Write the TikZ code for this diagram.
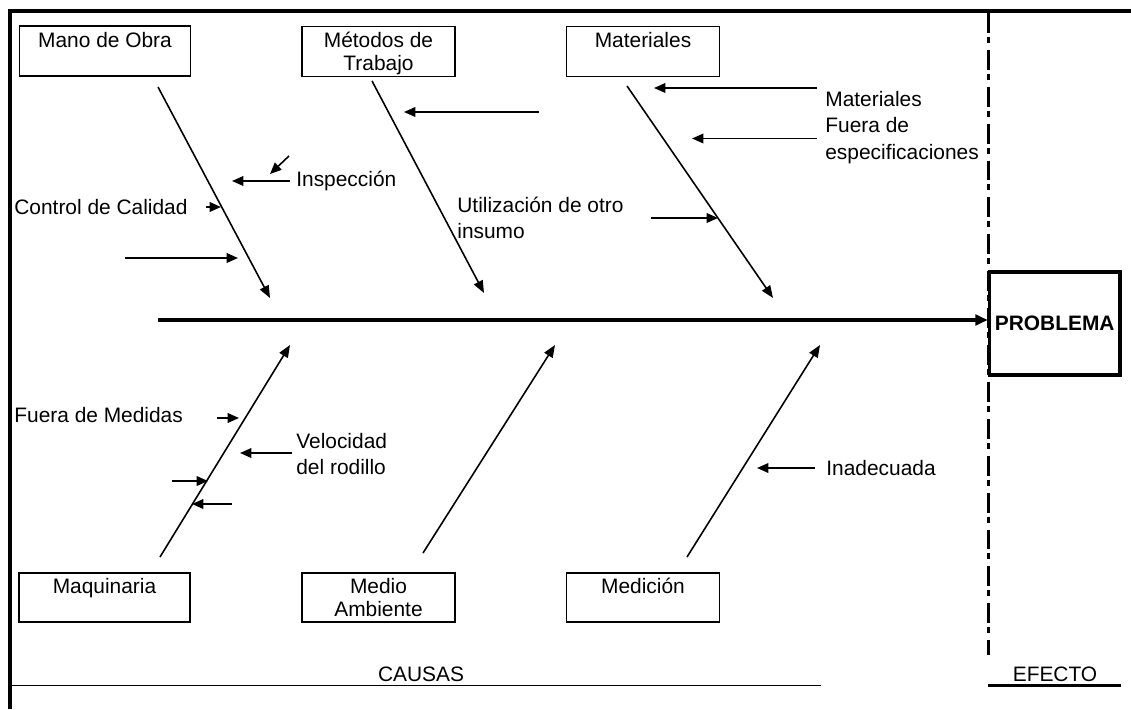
\documentclass[tikz,border=0pt]{standalone}
\usepackage{fontspec}
\setmainfont{Liberation Sans}
\usetikzlibrary{arrows.meta}
% two-line content of a category box, with fixed first-line height and last-line depth
\newcommand{\cattext}[2]{\rule{0pt}{11.5pt}#1\\#2\rule[-3pt]{0pt}{3pt}}
\begin{document}
\begin{tikzpicture}[x=0.02cm,y=-0.02cm,
  font=\fontsize{11.9}{14.7}\selectfont,
  catbox/.style={draw,line width=0.7pt,minimum height=1.0cm,align=center,inner sep=0pt,
    font=\fontsize{11.9}{13}\selectfont},
  bone/.style={line width=0.9pt,-{Triangle[length=7pt,width=5.5pt]}},
  twig/.style={line width=0.9pt,-{Triangle[length=6.5pt,width=5.5pt]}},
  lbl/.style={anchor=west,align=left,inner sep=0pt},
  spine/.style={line width=2pt,-{Triangle[length=7pt,width=6pt]}},
]
\useasboundingbox (0,0) rectangle (1131,709);

% outer frame (top and left)
\coordinate (frameBL) at (10,709);
\coordinate (frameTL) at (10,11);
\coordinate (frameTR) at (1131,11);
\draw[line width=2.3pt] (frameBL) -- (frameTL) -- (frameTR);

% dash-dot separator between causes and effect
\coordinate (sepTop) at (988.5,13);
\coordinate (sepBot) at (988.5,655);
\draw[line width=2pt,dash pattern=on 11.3pt off 2.3pt on 3.4pt off 4pt] (sepTop) -- (sepBot);

% category boxes
\node[catbox,minimum width=3.43cm] (mano) at (105,51) {\cattext{Mano de Obra}{}};
\node[catbox,minimum width=3.06cm] (metodos) at (378.5,51.5) {\cattext{Métodos de}{Trabajo}};
\node[catbox,minimum width=3.05cm] (materiales) at (643,51.5) {\cattext{Materiales}{}};
\node[catbox,minimum width=3.42cm,minimum height=0.98cm] (maquinaria) at (104.5,597.5) {\cattext{Maquinaria}{}};
\node[catbox,minimum width=3.06cm,minimum height=0.98cm] (medio) at (378.5,597.5) {\cattext{Medio}{Ambiente}};
\node[catbox,minimum width=3.05cm,minimum height=0.98cm] (medicion) at (643,597.5) {\cattext{Medición}{}};

% effect box
\node[draw,line width=2pt,minimum width=2.61cm,minimum height=2.06cm,inner sep=0pt,font=\fontsize{11.9}{14.7}\selectfont\bfseries] (problema) at (1054.7,323.3) {PROBLEMA};

% spine
\coordinate (spineTail) at (158,320);
\draw[spine] (spineTail) -- (problema.west |- spineTail);

% main bones
\coordinate (manoA) at (158,87);   \coordinate (manoB) at (270,298);
\coordinate (metA) at (372,81);    \coordinate (metB) at (484,293);
\coordinate (matA) at (627,86);    \coordinate (matB) at (773,298);
\coordinate (maqA) at (160,557);   \coordinate (maqB) at (290,345);
\coordinate (ambA) at (423,553);   \coordinate (ambB) at (555,345);
\coordinate (medA) at (687,557);   \coordinate (medB) at (820,345);
\draw[bone] (manoA) -- (manoB);
\draw[bone] (metA) -- (metB);
\draw[bone] (matA) -- (matB);
\draw[bone] (maqA) -- (maqB);
\draw[bone] (ambA) -- (ambB);
\draw[bone] (medA) -- (medB);

% cause labels
\node[lbl] (inspeccion) at (296,181) {Inspección};
\node[lbl] (control) at (14,207) {Control de Calidad};
\node[lbl] (utilizacion) at (457,217.5) {Utilización de otro\\insumo};
\node[lbl,font=\fontsize{11.9}{15.1}\selectfont] (matfuera) at (825,127.5) {Materiales\\Fuera de\\especificaciones};
\node[lbl] (fueramed) at (14,415) {Fuera de Medidas};
\node[lbl] (velocidad) at (296,454) {Velocidad\\del rodillo};
\node[lbl] (inadecuada) at (826,468) {Inadecuada};

% sub-cause arrows
\coordinate (t1a) at (290,181);  \coordinate (t1b) at (232,181);
\coordinate (t2a) at (289,156);  \coordinate (t2b) at (270,174);
\coordinate (t3a) at (206,207);  \coordinate (t3b) at (221,207);
\coordinate (t4a) at (125,258);  \coordinate (t4b) at (238,258);
\coordinate (t5a) at (539,112);  \coordinate (t5b) at (404,112);
\coordinate (t6a) at (651,218);  \coordinate (t6b) at (718,218);
\coordinate (t7a) at (817,88);   \coordinate (t7b) at (654,88);
\coordinate (t8a) at (817,138.5);\coordinate (t8b) at (692,138.5);
\coordinate (t9a) at (217,418);  \coordinate (t9b) at (239,418);
\coordinate (t10a) at (292,453); \coordinate (t10b) at (240,453);
\coordinate (t11a) at (172,481); \coordinate (t11b) at (208,481);
\coordinate (t12a) at (232,504); \coordinate (t12b) at (192,504);
\coordinate (t13a) at (815,468); \coordinate (t13b) at (757,468);
\foreach \i in {1,...,13} \draw[twig] (t\i a) -- (t\i b);

% section captions
\coordinate (causasL) at (10,685.5);  \coordinate (causasR) at (821,685.5);
\coordinate (efectoL) at (988,685.5); \coordinate (efectoR) at (1121,685.5);
\draw[line width=0.7pt] (causasL) -- (causasR);
\draw[line width=1.6pt] (efectoL) -- (efectoR);
\node (causas) at (421,674) {CAUSAS};
\node (efecto) at (1055,674) {EFECTO};
\end{tikzpicture}
\end{document}
